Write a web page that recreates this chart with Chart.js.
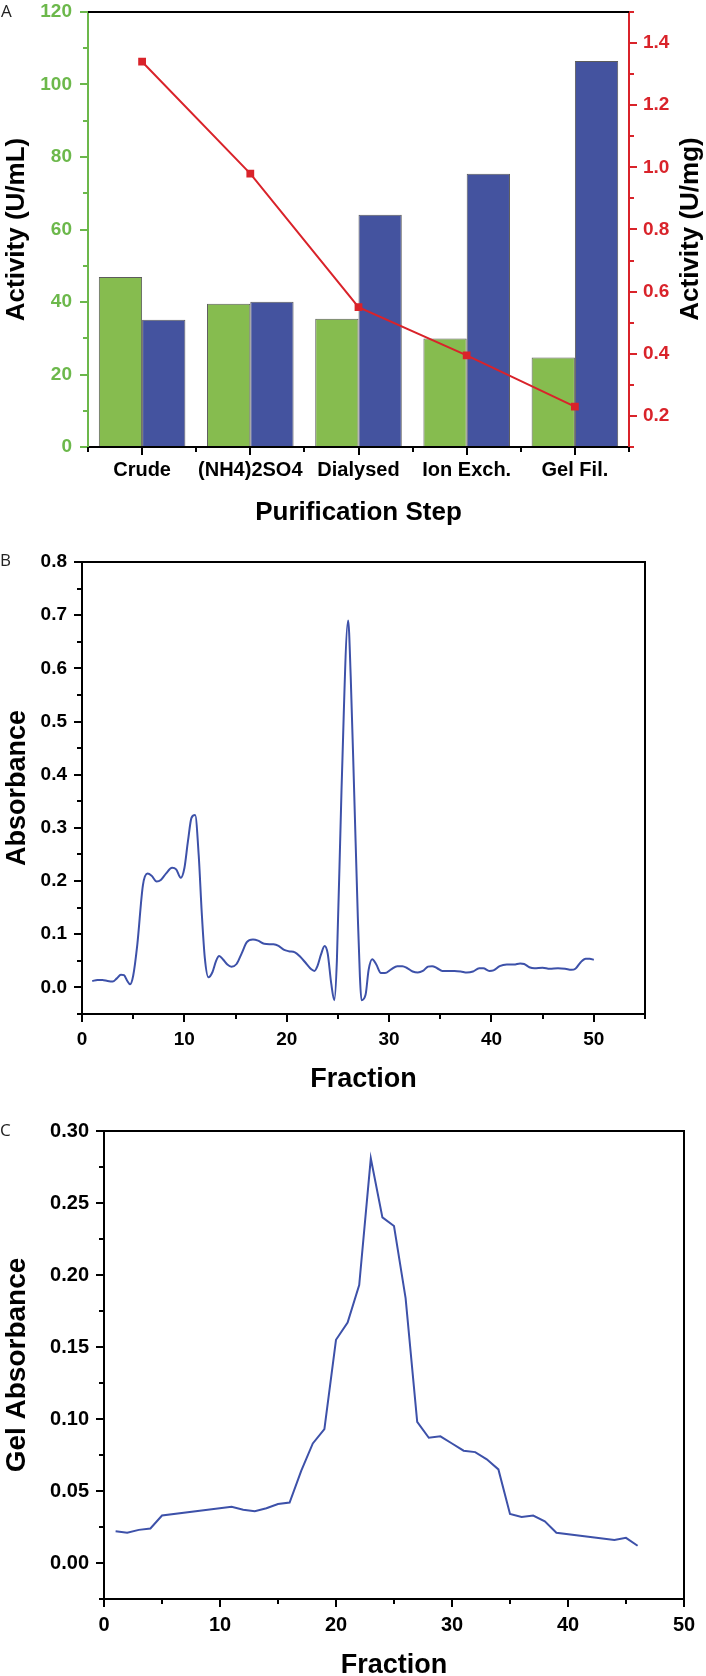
<!DOCTYPE html>
<html><head><meta charset="utf-8">
<script src="https://cdn.jsdelivr.net/npm/chart.js@4.4.1/dist/chart.umd.min.js"></script>
<style>
html,body{margin:0;padding:0;background:#fff;}
body{width:706px;height:1676px;position:relative;overflow:hidden;}
canvas{position:absolute;left:0;}
</style></head><body>
<canvas id="cA" width="706" height="540" style="top:0px"></canvas>
<canvas id="cB" width="706" height="560" style="top:540px"></canvas>
<canvas id="cC" width="706" height="576" style="top:1100px"></canvas>
<script>
// ---------- Panel A data ----------
const categoriesA = ['Crude', '(NH4)2SO4', 'Dialysed', 'Ion Exch.', 'Gel Fil.'];
const greenBarsA = [46.9, 39.5, 35.4, 29.9, 24.7];      // Activity (U/mL)
const blueBarsA = [35.1, 40.1, 64.1, 75.4, 106.5];      // Activity (U/mL)
const redLineA = [1.34, 0.98, 0.55, 0.395, 0.23];       // Activity (U/mg)
const yTicksA = [0, 20, 40, 60, 80, 100, 120];
const yMinorA = [10, 30, 50, 70, 90, 110];
const y1TicksA = [0.2, 0.4, 0.6, 0.8, 1.0, 1.2, 1.4];
const y1MinorA = [0.1, 0.3, 0.5, 0.7, 0.9, 1.1, 1.3, 1.5];
const xMinorA = [-0.5, 0.5, 1.5, 2.5, 3.5, 4.5];

// ---------- Panel B data ----------
const fractionB = [1.0,1.5,2.0,2.5,3.0,3.4,3.8,4.1,4.4,4.7,5.0,5.4,5.95,6.4,6.8,7.3,7.7,8.2,8.8,9.2,
  9.65,10.0,10.35,10.7,11.05,11.4,11.7,12.0,12.35,12.75,13.1,13.4,13.8,14.2,14.6,15.1,15.6,16.1,16.7,17.2,
  17.8,18.7,19.2,19.7,20.2,20.8,21.3,21.9,22.4,22.7,23.0,23.35,23.7,24.0,24.35,24.65,24.9,25.35,26.0,26.25,
  26.6,26.95,27.15,27.3,27.7,28.0,28.35,28.75,29.2,29.6,30.2,30.8,31.3,31.8,32.3,32.8,33.3,33.8,34.2,34.7,
  35.2,35.8,36.4,37.0,37.6,38.2,38.8,39.2,39.8,40.2,40.8,41.5,42.2,42.8,43.2,43.7,44.2,45.0,45.7,46.5,
  47.2,47.8,48.2,48.7,49.2,49.6,50.0];
const absorbanceB = [0.012,0.014,0.014,0.012,0.011,0.017,0.024,0.023,0.013,0.006,0.022,0.080,0.192,0.214,0.210,0.199,0.202,0.214,0.225,0.222,
  0.206,0.224,0.275,0.319,0.324,0.249,0.140,0.055,0.019,0.029,0.050,0.059,0.052,0.043,0.039,0.044,0.064,0.085,0.090,0.088,
  0.082,0.081,0.078,0.071,0.068,0.066,0.058,0.045,0.034,0.031,0.040,0.062,0.078,0.064,0.007,-0.024,0.050,0.370,0.690,0.585,
  0.360,0.130,0.020,-0.024,-0.014,0.033,0.053,0.043,0.027,0.027,0.034,0.040,0.040,0.036,0.030,0.028,0.031,0.039,0.040,0.036,
  0.031,0.031,0.031,0.030,0.028,0.030,0.036,0.036,0.031,0.032,0.040,0.043,0.043,0.045,0.044,0.038,0.036,0.037,0.035,0.036,
  0.035,0.033,0.035,0.047,0.054,0.054,0.052];
const xTicksB = [0, 10, 20, 30, 40, 50];
const xMinorB = [5, 15, 25, 35, 45, 55];
const yTicksB = [0, 0.1, 0.2, 0.3, 0.4, 0.5, 0.6, 0.7, 0.8];
const yMinorB = [-0.05, 0.05, 0.15, 0.25, 0.35, 0.45, 0.55, 0.65, 0.75];

// ---------- Panel C data ----------
const fractionC = [1,2,3,4,5,11,12,13,14,15,16,17,18,19,20,21,22,23,24,25,26,27,28,29,30,31,32,33,34,35,36,37,38,39,44,45,46];
const absorbanceC = [0.022,0.021,0.023,0.024,0.033,0.039,0.037,0.036,0.038,0.041,0.042,0.064,0.083,0.093,0.155,0.167,0.193,0.281,0.240,0.234,
  0.184,0.098,0.087,0.088,0.083,0.078,0.077,0.072,0.065,0.034,0.032,0.033,0.029,0.021,0.016,0.0175,0.012];
const xTicksC = [0, 10, 20, 30, 40, 50];
const xMinorC = [5, 15, 25, 35, 45];
const yTicksC = [0, 0.05, 0.10, 0.15, 0.20, 0.25, 0.30];
const yMinorC = [-0.025, 0.025, 0.075, 0.125, 0.175, 0.225, 0.275];

// ---------- styling ----------
const FONT = "'Liberation Sans', Arial, Helvetica, sans-serif";
const GREEN_AX = '#6cb84b', RED = '#d9232a', GREEN_BAR = '#86bc4f', BLUE_BAR = '#44539f', LINE = '#3d51a9';
Chart.defaults.font.family = FONT;
Chart.defaults.color = '#000';

const setTicks = arr => s => { s.ticks = arr.map(v => ({ value: v })); };
const fixW = w => s => { s.width = w; s.paddingTop = s.paddingBottom = s.paddingLeft = s.paddingRight = 0; };
const fixH = h => s => { s.height = h; s.paddingTop = s.paddingBottom = s.paddingLeft = s.paddingRight = 0; };

const deco = {
  id: 'deco',
  afterDraw(chart, args, o) {
    const ctx = chart.ctx, a = chart.chartArea;
    ctx.save();
    ctx.lineCap = 'butt';
    (o.minor || []).forEach(m => {
      const s = chart.scales[m.axis];
      ctx.strokeStyle = m.color; ctx.lineWidth = 2;
      m.values.forEach(v => {
        const p = Math.round(s.getPixelForValue(v));
        ctx.beginPath();
        if (s.isHorizontal()) { ctx.moveTo(p, a.bottom); ctx.lineTo(p, a.bottom + m.len); }
        else if (s.position === 'left') { ctx.moveTo(a.left, p); ctx.lineTo(a.left - m.len, p); }
        else { ctx.moveTo(a.right, p); ctx.lineTo(a.right + m.len, p); }
        ctx.stroke();
      });
    });
    ctx.strokeStyle = '#000'; ctx.lineWidth = 2;
    if (o.frameTop) { ctx.beginPath(); ctx.moveTo(a.left, a.top); ctx.lineTo(a.right, a.top); ctx.stroke(); }
    if (o.frameRight) { ctx.beginPath(); ctx.moveTo(a.right, a.top - 1); ctx.lineTo(a.right, a.bottom + 1); ctx.stroke(); }
    (o.texts || []).forEach(t => {
      ctx.save();
      ctx.font = t.font; ctx.fillStyle = t.color || '#000';
      ctx.textAlign = t.align || 'center'; ctx.textBaseline = 'middle';
      ctx.translate(t.x, t.y);
      if (t.rot) ctx.rotate(t.rot * Math.PI / 180);
      ctx.fillText(t.text, 0, 0);
      ctx.restore();
    });
    ctx.restore();
  }
};

const common = {
  responsive: false, animation: false, devicePixelRatio: 1, events: [],
  plugins: { legend: { display: false }, tooltip: { enabled: false } }
};
const tickFont = sz => ({ family: FONT, size: sz, weight: 'bold' });
const titleFont = sz => ({ family: FONT, size: sz, weight: 'bold' });

// ---------- Chart A ----------
new Chart(document.getElementById('cA'), {
  type: 'bar',
  data: {
    labels: categoriesA,
    datasets: [
      { type: 'line', data: redLineA, yAxisID: 'y1', borderColor: RED, backgroundColor: RED,
        borderWidth: 2, pointStyle: 'rect', pointRadius: 5.5, pointBorderWidth: 0, order: 0, tension: 0 },
      { data: greenBarsA, yAxisID: 'y', backgroundColor: GREEN_BAR, borderColor: '#5c5c5c', borderWidth: 1,
        categoryPercentage: 0.8, barPercentage: 1.0, order: 1 },
      { data: blueBarsA, yAxisID: 'y', backgroundColor: BLUE_BAR, borderColor: '#5c5c5c', borderWidth: 1,
        categoryPercentage: 0.8, barPercentage: 1.0, order: 1 }
    ]
  },
  options: Object.assign({}, common, {
    layout: { padding: { top: 12, left: 0, right: 0, bottom: 0 } },
    scales: {
      x: {
        type: 'category', offset: true,
        grid: { offset: false, drawOnChartArea: false, tickLength: 8, color: '#000', lineWidth: 2 },
        border: { display: true, color: '#000', width: 2 },
        ticks: { font: tickFont(20), color: '#000', padding: 3, maxRotation: 0, minRotation: 0, autoSkip: false },
        title: { display: true, text: 'Purification Step', font: titleFont(26), color: '#000', padding: { top: 0, bottom: 12 } },
        afterFit: fixH(93)
      },
      y: {
        type: 'linear', position: 'left', min: 0, max: 120,
        afterBuildTicks: setTicks(yTicksA),
        grid: { drawOnChartArea: false, tickLength: 8, color: GREEN_AX, lineWidth: 2 },
        border: { display: true, color: GREEN_AX, width: 2 },
        ticks: { font: tickFont(19), color: GREEN_AX, padding: 8, callback: v => String(v) },
        title: { display: true, text: 'Activity (U/mL)', font: titleFont(26), color: '#000', padding: { top: 1, bottom: 0 } },
        afterFit: fixW(88)
      },
      y1: {
        type: 'linear', position: 'right', min: 0.1, max: 1.5,
        afterBuildTicks: setTicks(y1TicksA),
        grid: { drawOnChartArea: false, tickLength: 8, color: RED, lineWidth: 2 },
        border: { display: true, color: RED, width: 2 },
        ticks: { font: tickFont(19), color: RED, padding: 6, callback: v => Number(v).toFixed(1) },
        afterFit: fixW(77)
      }
    },
    plugins: Object.assign({}, common.plugins, {
      deco: {
        minor: [
          { axis: 'y', values: yMinorA, color: GREEN_AX, len: 5 },
          { axis: 'y1', values: y1MinorA, color: RED, len: 5 },
          { axis: 'x', values: xMinorA, color: '#000', len: 5 }
        ],
        frameTop: true,
        texts: [
          { text: 'A', x: 1, y: 12, align: 'left', font: "17px 'Open Sans', 'Noto Sans', sans-serif", color: '#222' },
          { text: 'Activity (U/mg)', x: 691, y: 229, rot: -90, font: "bold 26px " + FONT }
        ]
      }
    })
  }),
  plugins: [deco]
});

// ---------- Chart B ----------
new Chart(document.getElementById('cB'), {
  type: 'line',
  data: {
    datasets: [{
      data: fractionB.map((x, i) => ({ x: x, y: absorbanceB[i] })),
      borderColor: LINE, borderWidth: 2, pointRadius: 0, cubicInterpolationMode: 'monotone', fill: false
    }]
  },
  options: Object.assign({}, common, {
    layout: { padding: { top: 22, left: 0, right: 61, bottom: 0 } },
    scales: {
      x: {
        type: 'linear', min: 0, max: 55,
        afterBuildTicks: setTicks(xTicksB),
        grid: { drawOnChartArea: false, tickLength: 8, color: '#000', lineWidth: 2 },
        border: { display: true, color: '#000', width: 2 },
        ticks: { font: tickFont(19), color: '#000', padding: 6, autoSkip: false, maxRotation: 0, callback: v => String(v) },
        title: { display: true, text: 'Fraction', font: titleFont(27), color: '#000', padding: { top: 0, bottom: 4 } },
        afterFit: fixH(86)
      },
      y: {
        type: 'linear', min: -0.05, max: 0.8,
        afterBuildTicks: setTicks(yTicksB),
        grid: { drawOnChartArea: false, tickLength: 8, color: '#000', lineWidth: 2 },
        border: { display: true, color: '#000', width: 2 },
        ticks: { font: tickFont(19), color: '#000', padding: 7, callback: v => Number(v).toFixed(1) },
        title: { display: true, text: 'Absorbance', font: titleFont(27), color: '#000', padding: { top: 1, bottom: 0 } },
        afterFit: fixW(82)
      }
    },
    plugins: Object.assign({}, common.plugins, {
      deco: {
        minor: [
          { axis: 'x', values: xMinorB, color: '#000', len: 5 },
          { axis: 'y', values: yMinorB, color: '#000', len: 5 }
        ],
        frameTop: true, frameRight: true,
        texts: [
          { text: 'B', x: 0, y: 21, align: 'left', font: "17px 'Open Sans', 'Noto Sans', sans-serif", color: '#222' }
        ]
      }
    })
  }),
  plugins: [deco]
});

// ---------- Chart C ----------
new Chart(document.getElementById('cC'), {
  type: 'line',
  data: {
    datasets: [{
      data: fractionC.map((x, i) => ({ x: x, y: absorbanceC[i] })),
      borderColor: LINE, borderWidth: 2, pointRadius: 0, tension: 0, fill: false
    }]
  },
  options: Object.assign({}, common, {
    layout: { padding: { top: 31, left: 0, right: 22, bottom: 0 } },
    scales: {
      x: {
        type: 'linear', min: 0, max: 50,
        afterBuildTicks: setTicks(xTicksC),
        grid: { drawOnChartArea: false, tickLength: 8, color: '#000', lineWidth: 2 },
        border: { display: true, color: '#000', width: 2 },
        ticks: { font: tickFont(20), color: '#000', padding: 6, autoSkip: false, maxRotation: 0, callback: v => String(v) },
        title: { display: true, text: 'Fraction', font: Object.assign(titleFont(27), { lineHeight: 0.8 }), color: '#000', padding: { top: 0, bottom: 0 } },
        afterFit: fixH(77)
      },
      y: {
        type: 'linear', min: -0.025, max: 0.30,
        afterBuildTicks: setTicks(yTicksC),
        grid: { drawOnChartArea: false, tickLength: 8, color: '#000', lineWidth: 2 },
        border: { display: true, color: '#000', width: 2 },
        ticks: { font: tickFont(20), color: '#000', padding: 7, callback: v => Number(v).toFixed(2) },
        title: { display: true, text: 'Gel Absorbance', font: titleFont(28), color: '#000', padding: { top: 0, bottom: 0 } },
        afterFit: fixW(104)
      }
    },
    plugins: Object.assign({}, common.plugins, {
      deco: {
        minor: [
          { axis: 'x', values: xMinorC, color: '#000', len: 5 },
          { axis: 'y', values: yMinorC, color: '#000', len: 5 }
        ],
        frameTop: true, frameRight: true,
        texts: [
          { text: 'C', x: 0, y: 31, align: 'left', font: "17px 'Open Sans', 'Noto Sans', sans-serif", color: '#222' }
        ]
      }
    })
  }),
  plugins: [deco]
});
</script>
</body></html>
